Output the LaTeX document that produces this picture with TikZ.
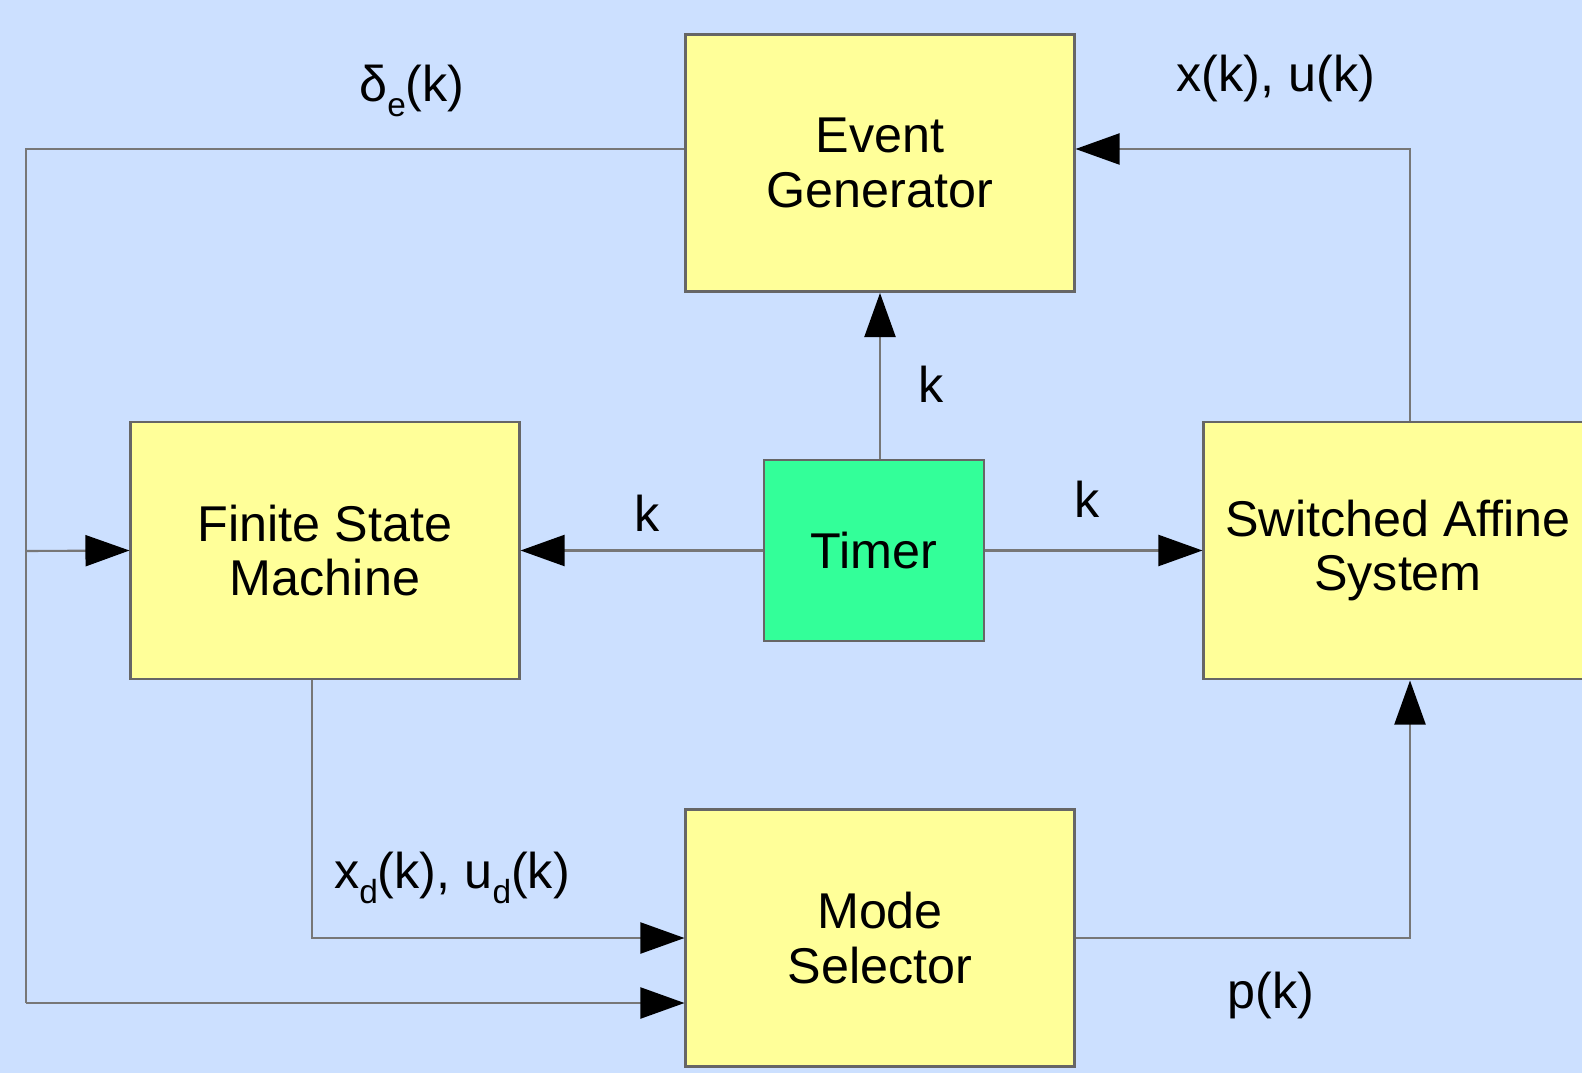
\documentclass[tikz,border=0pt]{standalone}
\usepackage{fontspec}
\setmainfont{Liberation Sans}
\usetikzlibrary{arrows.meta}

\definecolor{bgblue}{HTML}{CCE0FF}
\definecolor{boxyellow}{HTML}{FFFF99}
\definecolor{timergreen}{HTML}{33FF99}
\definecolor{edgegray}{HTML}{666666}
\definecolor{wiregray}{HTML}{777777}
\newcommand{\lowsub}[1]{\raisebox{-0.55ex}{\fontsize{9.5pt}{9.5pt}\selectfont #1}}

\begin{document}
\begin{tikzpicture}[x=0.01cm, y=-0.01cm,
  block/.style={draw=edgegray, line width=0.8pt, fill=boxyellow, inner sep=0pt,
    minimum width=3.88cm, minimum height=2.57cm, align=center,
    font=\fontsize{14.3pt}{15.6pt}\selectfont},
  wire/.style={draw=wiregray, line width=0.6pt},
  arr/.style={wire, -{Triangle[length=0.44cm, width=0.31cm, black]}},
  lbl/.style={font=\fontsize{14.3pt}{15.6pt}\selectfont}]
 \fill[bgblue] (0,0) rectangle (1582,1073);
 \useasboundingbox (0,0) rectangle (1582,1073);

 % blocks
 \node[block] (eg) at (880,163) {Event\\Generator};
 \node[block] (fsm) at (325,550.5) {Finite State\\Machine};
 \node[block, fill=timergreen, minimum width=2.2cm, minimum height=1.81cm] (tm) at (874,550.5) {Timer};
 \node[block] (sas) at (1398,550.5) {Switched Affine\\System};
 \node[block] (ms) at (880,938) {Mode\\Selector};

 % corners of the wires
 \coordinate (ltop) at (26,149);
 \coordinate (lmid) at (26,551);
 \coordinate (lbot) at (26,1003);
 \coordinate (rtop) at (1410,149);
 \coordinate (rbot) at (1410,938);
 \coordinate (fsmout) at (312,938);

 % delta_e(k) feedback
 \draw[wire] (ltop -| eg.west) -- (ltop) -- (lbot);
 \draw[arr] (lmid) -- (fsm.west);
 \draw[arr] (lbot) -- (lbot -| ms.west);
 \node[lbl] (de) at (412,91) {δ\lowsub{e}(k)};

 % timer outputs
 \draw[arr] (tm.west) -- (fsm.east);
 \node[lbl] (k1) at (647,513) {k};
 \draw[arr] (tm.east) -- (sas.west);
 \node[lbl] (k2) at (1087,499) {k};
 \draw[arr] (eg.south |- tm.north) -- (eg.south);
 \node[lbl] (k3) at (931,384) {k};

 % x(k), u(k)
 \draw[arr] (sas.north -| rtop) -- (rtop) -- (rtop -| eg.east);
 \node[lbl] (xu) at (1276,78) {x(k), u(k)};

 % x_d(k), u_d(k)
 \draw[arr] (fsmout |- fsm.south) -- (fsmout) -- (ms.west);
 \node[lbl] (xdud) at (452,878) {x\lowsub{d}(k), u\lowsub{d}(k)};

 % p(k)
 \draw[arr] (ms.east) -- (rbot) -- (rbot |- sas.south);
 \node[lbl] (p) at (1271,995) {p(k)};
\end{tikzpicture}
\end{document}
